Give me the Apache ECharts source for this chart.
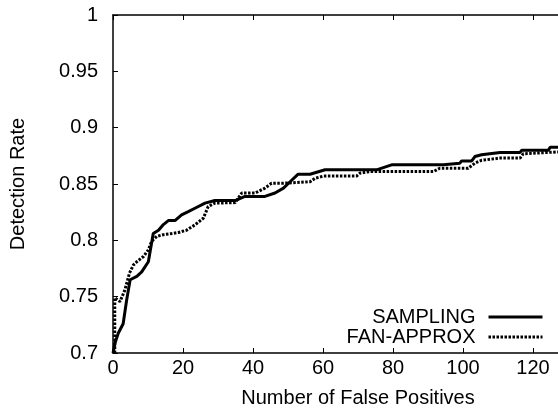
<!DOCTYPE html>
<html>
<head>
<meta charset="utf-8">
<script src="https://cdn.jsdelivr.net/npm/echarts@6/dist/echarts.min.js"></script>
<style>
  html, body { margin: 0; padding: 0; background: #fff; }
  #chart { width: 558px; height: 412px; }
</style>
</head>
<body>
<div id="chart"></div>
<script>
// SAMPLING curve (false positives, detection rate)
const samplingFP = [0, 0.6, 1.5, 2.9, 3.9, 4.9, 6.8, 8.2, 10.1, 11.5, 13, 14.4, 15.8, 17.7, 19.6, 21.5, 23.4, 26.3, 29.1, 34.9, 37.7, 43.4, 46.3, 48.7, 50.6, 52.9, 56.3, 60.6, 75.3, 75.8, 79.6, 94.4, 94.9, 99.1, 99.6, 102.5, 103.4, 105.3, 110.6, 116.3, 116.8, 124.4, 124.9, 130]
const samplingRate = [0.7, 0.709, 0.7175, 0.726, 0.747, 0.765, 0.768, 0.772, 0.781, 0.806, 0.809, 0.814, 0.8175, 0.8175, 0.8226, 0.8255, 0.8285, 0.833, 0.8353, 0.8353, 0.839, 0.839, 0.842, 0.8463, 0.852, 0.8587, 0.8587, 0.8626, 0.8626, 0.864, 0.867, 0.867, 0.8685, 0.8685, 0.8705, 0.8705, 0.8744, 0.876, 0.878, 0.878, 0.88, 0.88, 0.8827, 0.8827]

// FAN-APPROX curve
const fanFP = [0.5, 0.5, 2, 3.4, 4.7, 5.8, 6.8, 8.7, 10.1, 11, 12.5, 14.4, 16.8, 18.7, 21, 23.4, 25.8, 27.2, 29.1, 34.9, 36.8, 40.6, 43.4, 45.3, 48.7, 56.3, 57.7, 60.1, 69.6, 70.6, 73.4, 91.5, 93.4, 101.5, 103.4, 105.3, 110.6, 116.3, 117.2, 130]
const fanRate = [0.7, 0.749, 0.7456, 0.756, 0.7708, 0.778, 0.781, 0.7856, 0.7915, 0.799, 0.8035, 0.805, 0.806, 0.807, 0.809, 0.8137, 0.8196, 0.83, 0.833, 0.8335, 0.842, 0.842, 0.8463, 0.8507, 0.8507, 0.852, 0.855, 0.857, 0.857, 0.8597, 0.861, 0.861, 0.864, 0.864, 0.8685, 0.871, 0.873, 0.873, 0.8768, 0.879]

const seriesNames = ['SAMPLING', 'FAN-APPROX']
const xTitle = 'Number of False Positives'
const yTitle = 'Detection Rate'

const pairs = (xs, ys) => xs.map((x, i) => [x, ys[i]])
const font = 'Liberation Sans'
const fs = 20

const chart = echarts.init(document.getElementById('chart'))
chart.setOption({
  animation: false,
  textStyle: { fontFamily: font },
  grid: { left: 113, right: -45, top: 15, bottom: 59, outerBoundsMode: 'none', containLabel: false },
  legend: {
    orient: 'vertical',
    right: 14,
    top: 307,
    padding: 0,
    align: 'right',
    itemWidth: 54,
    itemHeight: 12,
    itemGap: 0,
    itemStyle: { opacity: 0 },
    lineStyle: { width: 3 },
    textStyle: { fontFamily: font, fontSize: fs, color: '#000', padding: [0, 8, 0, 0] },
    data: seriesNames
  },
  xAxis: [
    {
      type: 'value',
      min: 0,
      max: 140,
      interval: 20,
      name: xTitle,
      nameLocation: 'middle',
      nameGap: 35,
      nameTextStyle: { fontFamily: font, fontSize: fs, color: '#000' },
      axisLine: { show: true, lineStyle: { color: '#000', width: 1.5 } },
      axisTick: { inside: true, length: 5, lineStyle: { color: '#000' } },
      axisLabel: { fontFamily: font, fontSize: fs, color: '#000', margin: 5 },
      splitLine: { show: false }
    },
    {
      type: 'value',
      position: 'top',
      min: 0,
      max: 140,
      interval: 20,
      axisLine: { show: true, lineStyle: { color: '#000', width: 1.5 } },
      axisTick: { inside: true, length: 5, lineStyle: { color: '#000' } },
      axisLabel: { show: false },
      splitLine: { show: false }
    }
  ],
  yAxis: {
    type: 'value',
    min: 0.7,
    max: 1,
    interval: 0.05,
    name: yTitle,
    nameLocation: 'middle',
    nameGap: 85,
    nameTextStyle: { fontFamily: font, fontSize: fs, color: '#000' },
    axisLine: { show: true, lineStyle: { color: '#000', width: 1.5 } },
    axisTick: { inside: true, length: 5, lineStyle: { color: '#000' } },
    axisLabel: { fontFamily: font, fontSize: fs, color: '#000', margin: 15 },
    splitLine: { show: false }
  },
  series: [
    {
      name: seriesNames[0],
      type: 'line',
      data: pairs(samplingFP, samplingRate),
      symbol: 'none',
      lineStyle: { color: '#000', width: 3 },
      itemStyle: { color: '#000' }
    },
    {
      name: seriesNames[1],
      type: 'line',
      data: pairs(fanFP, fanRate),
      symbol: 'none',
      lineStyle: { color: '#000', width: 3, type: [2.5, 1.5] },
      itemStyle: { color: '#000' }
    }
  ]
})
</script>
</body>
</html>
